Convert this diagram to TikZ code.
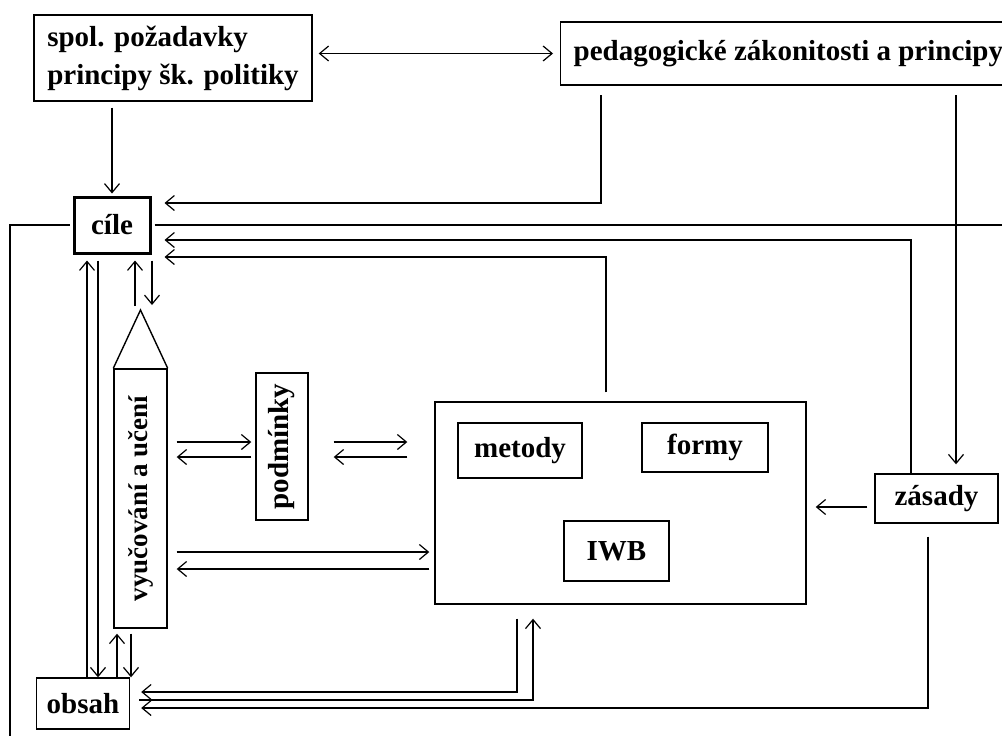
\documentclass[tikz,border=0pt]{standalone}
\usepackage{fontspec}
\setmainfont{Liberation Serif}
\usetikzlibrary{arrows.meta}

\tikzset{
  box/.style={draw, line width=1.4pt, inner sep=0pt, font=\bfseries\fontsize{29}{38}\selectfont},
  cara/.style={line width=1.4pt},
  pil/.style={cara, -{Straight Barb[length=9pt,width=15pt,line width=1.2pt]}},
  dvoj/.style={cara, {Straight Barb[length=9pt,width=15pt,line width=1.2pt]}-{Straight Barb[length=9pt,width=15pt,line width=1.2pt]}},
}

\begin{document}
\begin{tikzpicture}[x=1pt,y=-1pt]
  \useasboundingbox (0,0) rectangle (1002,736);
  % boxes
  \node[box, minimum width=278pt, minimum height=86pt, align=left] (spol) at (173,58) {spol. požadavky\\principy šk. politiky};
  \node[box, anchor=west, minimum height=63pt, inner xsep=13pt] (ped) at (560,53.5) {pedagogické zákonitosti a principy};
  \node[box, line width=3pt, minimum width=76pt, minimum height=56pt] (cile) at (112,225) {cíle};
  \node[box, minimum width=93pt, minimum height=51pt] (obsah) at (83,703.5) {obsah};
  \node[box, minimum width=123pt, minimum height=49pt] (zasady) at (936.5,498.5) {zásady};
  \node[draw, line width=1.4pt, minimum width=371pt, minimum height=202pt] (ram) at (620.5,503) {};
  \node[box, minimum width=124pt, minimum height=55pt] (metody) at (520,450.5) {metody};
  \node[box, minimum width=126pt, minimum height=49pt] (formy) at (705,447.5) {formy};
  \node[box, minimum width=105pt, minimum height=60pt] (iwb) at (616.5,551) {IWB};
  \node[box, rotate=90, minimum width=147pt, minimum height=52pt] (podm) at (282,446.5) {podmínky};
  \node[box, rotate=90, minimum width=259pt, minimum height=53pt, font=\bfseries\fontsize{27}{32}\selectfont] (vyuc) at (140.5,498.5) {vyučování a učení};
  \coordinate (hrot) at (140.5,310);
  \draw[cara] (vyuc.north east) -- (hrot) -- (vyuc.south east);
  \coordinate (p1) at (601,95);
  \coordinate (p2) at (956,95);
  \coordinate (rand) at (1002,225);
  % top
  \draw[dvoj, shorten <=6pt, shorten >=7pt] (spol.east |- ped.west) -- (ped.west);
  \draw[pil, shorten <=6pt, shorten >=2pt] (spol.south -| cile.north) -- (cile.north);
  \draw[pil] (p1) |- ([xshift=13pt,yshift=22pt]cile.east);
  \draw[pil, shorten >=9pt] (p2) -- (p2 |- zasady.north);
  % frame line
  \draw[cara, shorten <=3pt] (cile.west) -| (10,736);
  \draw[cara, shorten <=3pt] (cile.east) -- (rand);
  % back to cile
  \draw[pil] ([xshift=-25.5pt]zasady.north) |- ([xshift=13pt,yshift=-15pt]cile.east);
  \draw[pil] ([xshift=-14.5pt,yshift=9pt]ram.north) |- ([xshift=13pt,yshift=-32pt]cile.east);
  % cile and vyucovani
  \draw[pil] ([xshift=-5.5pt,yshift=4pt]hrot) -- ([xshift=23pt,yshift=-6pt]cile.south);
  \draw[pil] ([xshift=40pt,yshift=-6pt]cile.south) -- ([xshift=11.5pt,yshift=5pt]hrot);
  % cile and obsah
  \draw[pil] ([xshift=4pt]obsah.north) -- ([xshift=-25pt,yshift=-6pt]cile.south);
  \draw[pil] ([xshift=-14pt,yshift=-6pt]cile.south) -- ([xshift=15pt]obsah.north);
  % vyucovani and obsah
  \draw[pil] ([xshift=34pt]obsah.north) -- ([xshift=-23.5pt,yshift=-5pt]vyuc.west);
  \draw[pil] ([xshift=-9.5pt,yshift=-5pt]vyuc.west) -- ([xshift=48pt]obsah.north);
  % vyucovani, podminky, ram
  \draw[pil] ([xshift=9pt,yshift=56.5pt]vyuc.south) -- ([xshift=-4pt,yshift=4.5pt]podm.north);
  \draw[pil] ([xshift=-4pt,yshift=-10.5pt]podm.north) -- ([xshift=9pt,yshift=41.5pt]vyuc.south);
  \draw[pil] ([xshift=25pt,yshift=4.5pt]podm.south) -- ([xshift=-27pt,yshift=61pt]ram.west);
  \draw[pil] ([xshift=-27pt,yshift=46pt]ram.west) -- ([xshift=25pt,yshift=-10.5pt]podm.south);
  \draw[pil] ([xshift=9pt,yshift=-53.5pt]vyuc.south) -- ([xshift=-5pt,yshift=-49pt]ram.west);
  \draw[pil] ([xshift=-5pt,yshift=-66pt]ram.west) -- ([xshift=9pt,yshift=-70.5pt]vyuc.south);
  % zasady
  \draw[pil] ([xshift=-7pt,yshift=-8.5pt]zasady.west) -- ([xshift=9pt,yshift=-4pt]ram.east);
  % bottom lines to obsah
  \draw[pil] ([xshift=-103.5pt,yshift=-14pt]ram.south) |- ([xshift=11pt,yshift=11.5pt]obsah.east);
  \draw[pil, shorten <=9pt] ([yshift=3.5pt]obsah.east) -| ([xshift=-87.5pt,yshift=-14pt]ram.south);
  \draw[pil] ([xshift=-8.5pt,yshift=-13pt]zasady.south) |- ([xshift=11pt,yshift=-4.5pt]obsah.east);
\end{tikzpicture}
\end{document}
